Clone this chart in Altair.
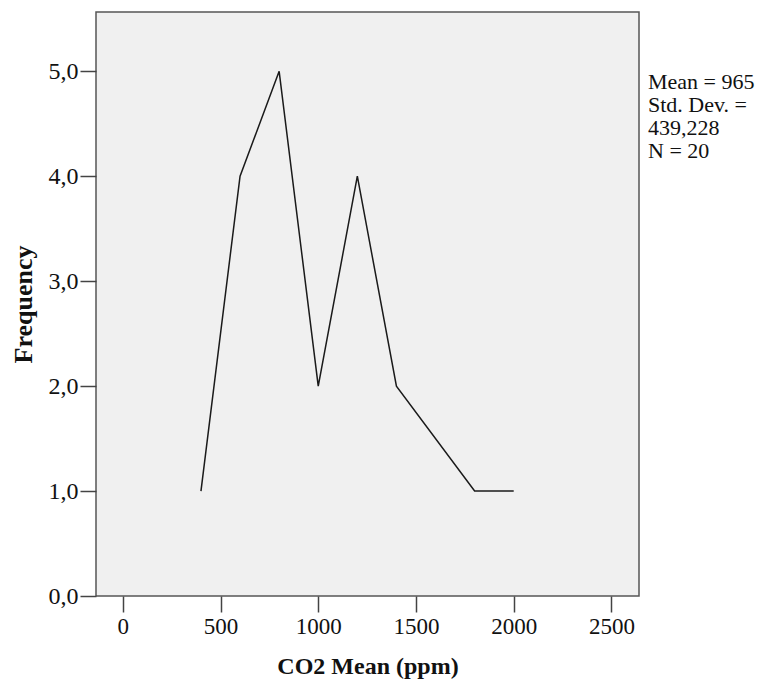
import altair as alt
import pandas as pd

co2 = [400, 600, 800, 1000, 1200, 1400, 1800, 2000]
freq = [1, 4, 5, 2, 4, 2, 1, 1]
x_ticks = [0, 500, 1000, 1500, 2000, 2500]
y_ticks = [0, 1, 2, 3, 4, 5]
stats = ["Mean = 965", "Std. Dev. =", "439,228", "N = 20"]

df = pd.DataFrame({"co2": co2, "freq": freq})
FONT = "Liberation Serif"

line = alt.Chart(df).mark_line(color="#1a1a1a", strokeWidth=1.5, clip=False).encode(
    x=alt.X("co2:Q", scale=alt.Scale(domain=[-137, 2641], nice=False, zero=False),
            axis=alt.Axis(values=x_ticks, title="CO2 Mean (ppm)", format="d",
                          grid=False, domain=False, tickSize=16, tickColor="#444",
                          tickWidth=1.5, labelFont=FONT, labelFontSize=23,
                          labelColor="#111", labelPadding=3, titleFont=FONT,
                          titleFontSize=24, titleFontWeight="bold", titleColor="#111",
                          titlePadding=16)),
    y=alt.Y("freq:Q", scale=alt.Scale(domain=[0, 5.565], nice=False),
            axis=alt.Axis(values=y_ticks, title="Frequency",
                          labelExpr="replace(format(datum.value, '.1f'), '.', ',')",
                          grid=False, domain=False, tickSize=16, tickColor="#444",
                          tickWidth=1.5, labelFont=FONT, labelFontSize=24,
                          labelColor="#111", labelPadding=2, titleFont=FONT,
                          titleFontSize=26, titleFontWeight="bold", titleColor="#111",
                          titlePadding=12)),
)

txt = alt.Chart(pd.DataFrame({"a": [0]})).mark_text(
    align="left", baseline="top", font=FONT, fontSize=22, lineHeight=23,
    color="#111", clip=False
).encode(x=alt.value(552), y=alt.value(60), text=alt.value(stats))

chart = alt.layer(line, txt).properties(
    width=543, height=584,
    padding={"left": 96, "top": 12, "right": 133, "bottom": 90},
    autosize=alt.AutoSizeParams(type="none"),
    background="white",
).configure_view(fill="#f0f0f0", stroke="#555", strokeWidth=1.5)

chart.save("out.html", embed_options={"renderer": "svg", "actions": False})
